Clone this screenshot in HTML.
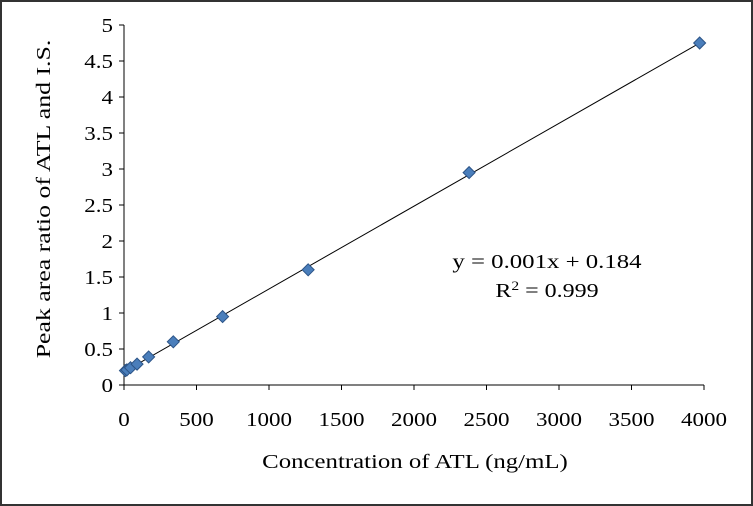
<!DOCTYPE html>
<html><head><meta charset="utf-8"><style>
html,body{margin:0;padding:0;background:#fff}
svg{display:block}
text{font-family:"Liberation Serif",serif;fill:#000}
</style></head><body>
<svg width="753" height="506" xmlns="http://www.w3.org/2000/svg">
<rect x="1" y="1" width="751" height="504" fill="#fff" stroke="#333" stroke-width="2"/>
<g id="axes"></g>
<g id="marks"></g>
<text class="st" data-k="1.24" x="547" y="268" font-size="20" text-anchor="middle">y = 0.001x + 0.184</text>
<text class="st" data-k="1.2" x="547" y="297" font-size="20" text-anchor="middle">R<tspan font-size="13" dy="-7">2</tspan><tspan dy="7"> = 0.999</tspan></text>
<text class="st" data-k="1.24" x="415" y="468" font-size="20" text-anchor="middle">Concentration of ATL (ng/mL)</text>
<text class="st" data-k="1.29" transform="translate(50,199) rotate(-90)" font-size="20" text-anchor="middle">Peak area ratio of ATL and I.S.</text>
</svg>
<script>
const xValues=[10,20,45,90,170,340,680,1270,2380,3970];
const yValues=[0.2,0.21,0.24,0.29,0.39,0.6,0.95,1.6,2.95,4.75];
const xTicks=[0,500,1000,1500,2000,2500,3000,3500,4000];
const yTicks=[0,0.5,1,1.5,2,2.5,3,3.5,4,4.5,5];
const slope=0.00115, intercept=0.184;
const X0=124,X1=704,Y0=385,Y1=25;
const sx=v=>X0+(v-0)/4000*(X1-X0);
const sy=v=>Y0-(v-0)/5*(Y0-Y1);
const NS="http://www.w3.org/2000/svg";
const axes=document.getElementById('axes'),marks=document.getElementById('marks');
function mk(t,a,p){const e=document.createElementNS(NS,t);for(const k in a)e.setAttribute(k,a[k]);p.appendChild(e);return e;}
let l=mk('line',{x1:X0,y1:Y1,x2:X0,y2:Y0,stroke:'#000','stroke-width':1},axes);


l=mk('line',{x1:X0,y1:Y0,x2:X1,y2:Y0,stroke:'#000','stroke-width':1},axes);


xTicks.forEach(v=>{const x=sx(v);
mk('line',{x1:x,y1:Y0,x2:x,y2:Y0+5,stroke:'#000'},axes);
const t=mk('text',{x:x,y:426,'font-size':20,'text-anchor':'middle',class:'st','data-k':1.15},axes);t.textContent=v;

});
yTicks.forEach(v=>{const y=sy(v);
mk('line',{x1:X0-5,y1:y,x2:X0,y2:y,stroke:'#000'},axes);
const t=mk('text',{x:X0-11,y:y+7,'font-size':20,'text-anchor':'end',class:'st','data-k':1.15},axes);t.textContent=v;

});
const xa=0,xb=3970;
l=mk('line',{x1:sx(xa),y1:sy(slope*xa+intercept),x2:sx(xb),y2:sy(slope*xb+intercept),stroke:'#000','stroke-width':1},marks);


xValues.forEach((v,i)=>{const x=sx(v),y=sy(yValues[i]);
const p=mk('polygon',{points:`${x},${y-6} ${x+6},${y} ${x},${y+6} ${x-6},${y}`,fill:'#4a7ebb',stroke:'#2c5487','stroke-width':1},marks);

});
document.querySelectorAll('.st').forEach(t=>{const k=parseFloat(t.getAttribute('data-k'));const w=t.getComputedTextLength();
t.setAttribute('textLength',(w*k).toFixed(1));t.setAttribute('lengthAdjust','spacingAndGlyphs');});
</script>
</body></html>
